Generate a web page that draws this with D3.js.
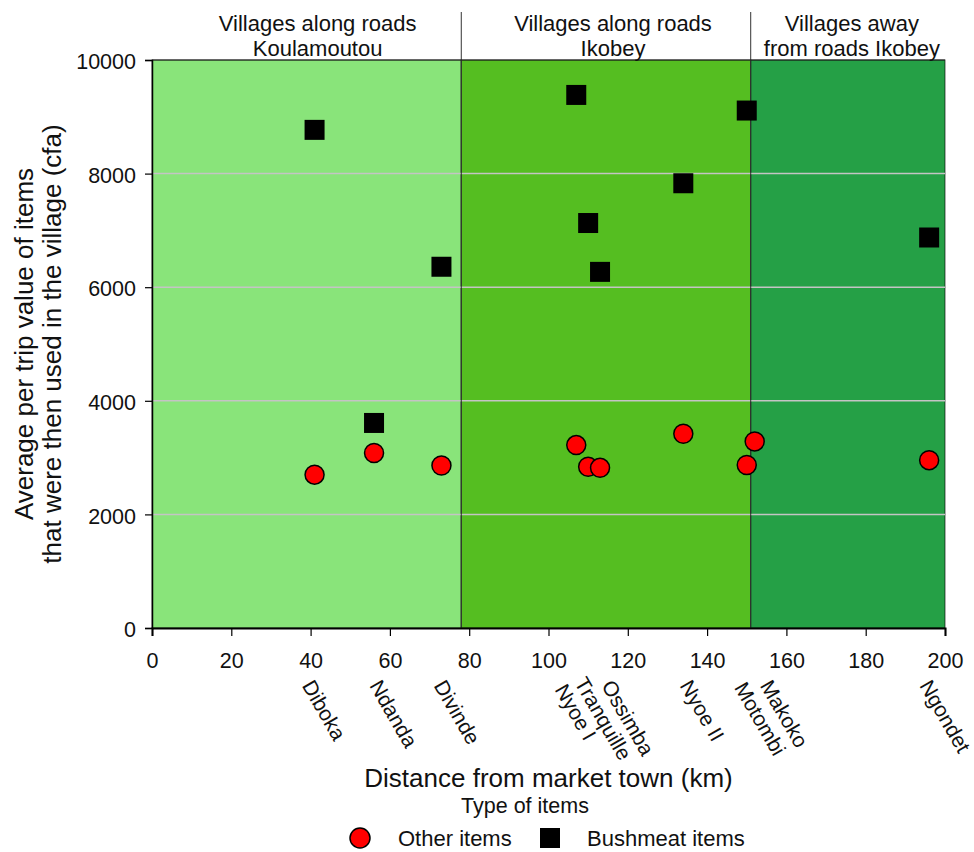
<!DOCTYPE html>
<html>
<head>
<meta charset="utf-8">
<script src="https://cdn.jsdelivr.net/npm/d3@7"></script>
<style>
  html, body { margin: 0; padding: 0; background: #fff; }
  svg { display: block; font-family: "Liberation Sans", Arial, Helvetica, sans-serif; }
</style>
</head>
<body>
<svg id="chart" width="974" height="852"></svg>
<script>
// Villages, their distance from the market town and the average per-trip value (cfa)
const villages = ["Diboka", "Ndanda", "Divinde", "Nyoe I", "Tranquille", "Ossimba", "Nyoe II", "Motombi", "Makoko", "Ngondet"];
const distanceKm = [41, 56, 73, 107, 110, 113, 134, 150, 152, 196];
const otherItems = [2700, 3080, 2860, 3220, 2840, 2820, 3420, 2870, 3285, 2955];
const bushmeatItems = [8770, 3610, 6360, 9385, 7130, 6270, 7830, 9110, null, 6875];

// Zones along the distance axis
const zoneNames = [["Villages along roads", "Koulamoutou"], ["Villages along roads", "Ikobey"], ["Villages away", "from roads Ikobey"]];
const zoneStart = [0, 78, 151];
const zoneEnd = [78, 151, 200];
const zoneColors = ["#89e47a", "#55be21", "#25a046"];

const xTicks = [0, 20, 40, 60, 80, 100, 120, 140, 160, 180, 200];
const yTicks = [0, 2000, 4000, 6000, 8000, 10000];
const gridValues = [2000, 4000, 6000, 8000];

// small offsets (px) that keep crowded village names apart
const labelNudgeX = [0, 8, 5, -9, -1, 14, 9, 0, 18, 3];
const labelNudgeY = [0, 0, 0, 4, -3, 0, 0, 2, 0, 0];
// header offsets (px) from the centre of each zone
const headerNudge = [11, 7, 4];

const svg = d3.select("#chart");
const pLeft = 152, pRight = 945, pTop = 60, pBottom = 628;

const x = d3.scaleLinear().domain([0, 200]).range([pLeft, pRight]);
const y = d3.scaleLinear().domain([0, 10000]).range([pBottom, pTop]);

// zone backgrounds
svg.append("g").selectAll("rect")
  .data(zoneNames.map((n, i) => ({ n, s: zoneStart[i], e: zoneEnd[i], c: zoneColors[i] })))
  .join("rect")
  .attr("x", d => x(d.s))
  .attr("y", pTop)
  .attr("width", d => x(d.e) - x(d.s))
  .attr("height", pBottom - pTop)
  .attr("fill", d => d.c)
  .attr("stroke", "rgba(0,0,0,0.65)")
  .attr("stroke-width", 1);

// horizontal grid
svg.append("g").selectAll("line")
  .data(gridValues)
  .join("line")
  .attr("x1", pLeft).attr("x2", pRight)
  .attr("y1", d => y(d)).attr("y2", d => y(d))
  .attr("stroke", "#c4c4c4")
  .attr("stroke-width", 1.5);

// separators between zones, continuing above the panel
svg.append("g").selectAll("line")
  .data(zoneStart.slice(1))
  .join("line")
  .attr("x1", d => x(d)).attr("x2", d => x(d))
  .attr("y1", 12).attr("y2", pBottom)
  .attr("stroke", "#333")
  .attr("stroke-width", 1);

// top border
svg.append("line")
  .attr("x1", pLeft).attr("x2", pRight).attr("y1", pTop).attr("y2", pTop)
  .attr("stroke", "#222").attr("stroke-width", 1.2);

// zone headers
const hdr = svg.append("g").attr("font-size", 22).attr("fill", "#111").attr("text-anchor", "middle");
zoneNames.forEach((lines, i) => {
  const cx = (x(zoneStart[i]) + x(zoneEnd[i])) / 2 + headerNudge[i];
  lines.forEach((t, j) => {
    hdr.append("text").attr("x", cx).attr("y", 31 + j * 25).text(t);
  });
});

// axes
const yAxis = d3.axisLeft(y).tickValues(yTicks).tickSize(7).tickPadding(9).tickFormat(d3.format("d"));
const gy = svg.append("g").attr("transform", `translate(${pLeft},0)`).call(yAxis);
gy.select(".domain").attr("stroke", "#000").attr("stroke-width", 1.5);
gy.selectAll(".tick line").attr("stroke", "#000").attr("stroke-width", 1.2);
gy.selectAll(".tick text").attr("font-size", 21.5).attr("fill", "#111").attr("font-family", null).attr("dy", "0.4em");

const xAxis = d3.axisBottom(x).tickValues(xTicks).tickSize(8).tickPadding(17).tickFormat(d3.format("d"));
const gx = svg.append("g").attr("transform", `translate(0,${pBottom})`).call(xAxis);
gx.select(".domain").attr("stroke", "#000").attr("stroke-width", 2);
gx.selectAll(".tick line").attr("stroke", "#000").attr("stroke-width", 1.2);
gx.selectAll(".tick text").attr("font-size", 21.5).attr("fill", "#111").attr("font-family", null);

// village names under the axis
svg.append("g").selectAll("text")
  .data(villages.map((v, i) => ({ v, d: distanceKm[i], nx: labelNudgeX[i], ny: labelNudgeY[i] })))
  .join("text")
  .attr("transform", d => `translate(${x(d.d) + d.nx},${678 + d.ny}) rotate(60)`)
  .attr("dy", "0.72em")
  .attr("font-size", 21)
  .attr("fill", "#111")
  .text(d => d.v);

// points: other items (circles) and bushmeat items (squares)
const pts = villages.map((v, i) => ({ v, d: distanceKm[i], o: otherItems[i], b: bushmeatItems[i] }));
const sq = 20;
svg.append("g").selectAll("rect")
  .data(pts.filter(p => p.b != null))
  .join("rect")
  .attr("x", p => x(p.d) - sq / 2)
  .attr("y", p => y(p.b) - sq / 2)
  .attr("width", sq).attr("height", sq)
  .attr("fill", "#000");

svg.append("g").selectAll("circle")
  .data(pts)
  .join("circle")
  .attr("cx", p => x(p.d))
  .attr("cy", p => y(p.o))
  .attr("r", 9.5)
  .attr("fill", "#ff0000")
  .attr("stroke", "#000")
  .attr("stroke-width", 1.5);

// axis titles
svg.append("text")
  .attr("x", (pLeft + pRight) / 2).attr("y", 787)
  .attr("text-anchor", "middle").attr("font-size", 26).attr("fill", "#111")
  .text("Distance from market town (km)");

const yTitle = svg.append("g").attr("transform", `translate(0,${(pTop + pBottom) / 2}) rotate(-90)`)
  .attr("text-anchor", "middle").attr("font-size", 26).attr("fill", "#111");
yTitle.append("text").attr("x", 0).attr("y", 33).text("Average per trip value of items");
yTitle.append("text").attr("x", 0).attr("y", 61).text("that were then used in the village (cfa)");

// legend
svg.append("text")
  .attr("x", 525).attr("y", 813)
  .attr("text-anchor", "middle").attr("font-size", 21.5).attr("fill", "#111")
  .text("Type of items");

const lg = svg.append("g").attr("font-size", 22).attr("fill", "#111");
lg.append("circle").attr("cx", 360).attr("cy", 838).attr("r", 10)
  .attr("fill", "#ff0000").attr("stroke", "#000").attr("stroke-width", 1.5);
lg.append("text").attr("x", 398).attr("y", 846).text("Other items");
lg.append("rect").attr("x", 540).attr("y", 828).attr("width", 20).attr("height", 20).attr("fill", "#000");
lg.append("text").attr("x", 587).attr("y", 846).text("Bushmeat items");
</script>
</body>
</html>
